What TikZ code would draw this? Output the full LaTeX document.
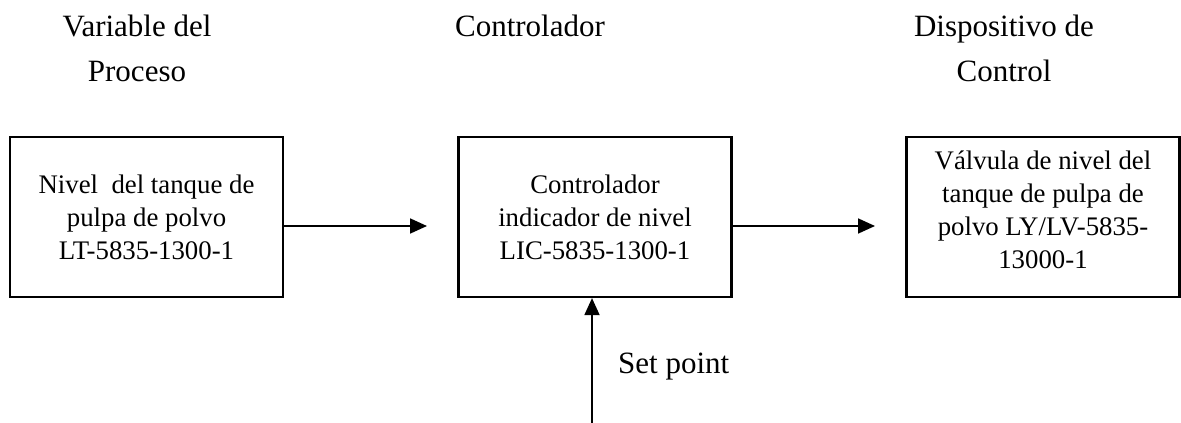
\documentclass[tikz,border=0pt]{standalone}
\usepackage{fontspec}
\setmainfont{Liberation Serif}
\usetikzlibrary{arrows.meta}
\begin{document}
\begin{tikzpicture}[x=1pt,y=-1pt,
  blockbox/.style={draw=black,line width=2.2pt,minimum width=273pt,minimum height=160pt,
    inner sep=0pt,align=center,font=\fontsize{26.8}{33}\selectfont},
  boxtext/.style={align=center,inner sep=0pt,font=\fontsize{26.8}{33}\selectfont},
  heading/.style={align=center,inner sep=0pt,font=\fontsize{31}{45}\selectfont},
  flow/.style={line width=1.8pt,-{Triangle[length=17pt,width=15pt]}}]
  \useasboundingbox (0,0) rectangle (1181,423);

  % column headings
  \node[heading] (h1) at (137,48) {Variable del\\Proceso};
  \node[heading,anchor=base] (h2) at (530,36) {Controlador};
  \node[heading] (h3) at (1004,48) {Dispositivo de\\Control};

  % blocks
  \node[blockbox] (b1) at (146.5,217) {Nivel~ del tanque de\\pulpa de polvo\\LT-5835-1300-1};
  \node[blockbox] (b2) at (595,217) {Controlador\\indicador de nivel\\LIC-5835-1300-1};
  \node[blockbox] (b3) at (1043,217) {};
  \node[boxtext] (t3) at (1043,210) {Válvula de nivel del\\tanque de pulpa de\\polvo LY/LV-5835-\\13000-1};

  % signal flow
  \coordinate (e1) at (427,226);
  \coordinate (e2) at (875,226);
  \coordinate (sp) at (592,423);
  \draw[flow] (b1.east |- e1) -- (e1);
  \draw[flow] (b2.east |- e2) -- (e2);
  \draw[flow] (sp) -- (sp |- b2.south);
  \node[heading,anchor=base west] (spl) at (618,373) {Set point};
\end{tikzpicture}
\end{document}
